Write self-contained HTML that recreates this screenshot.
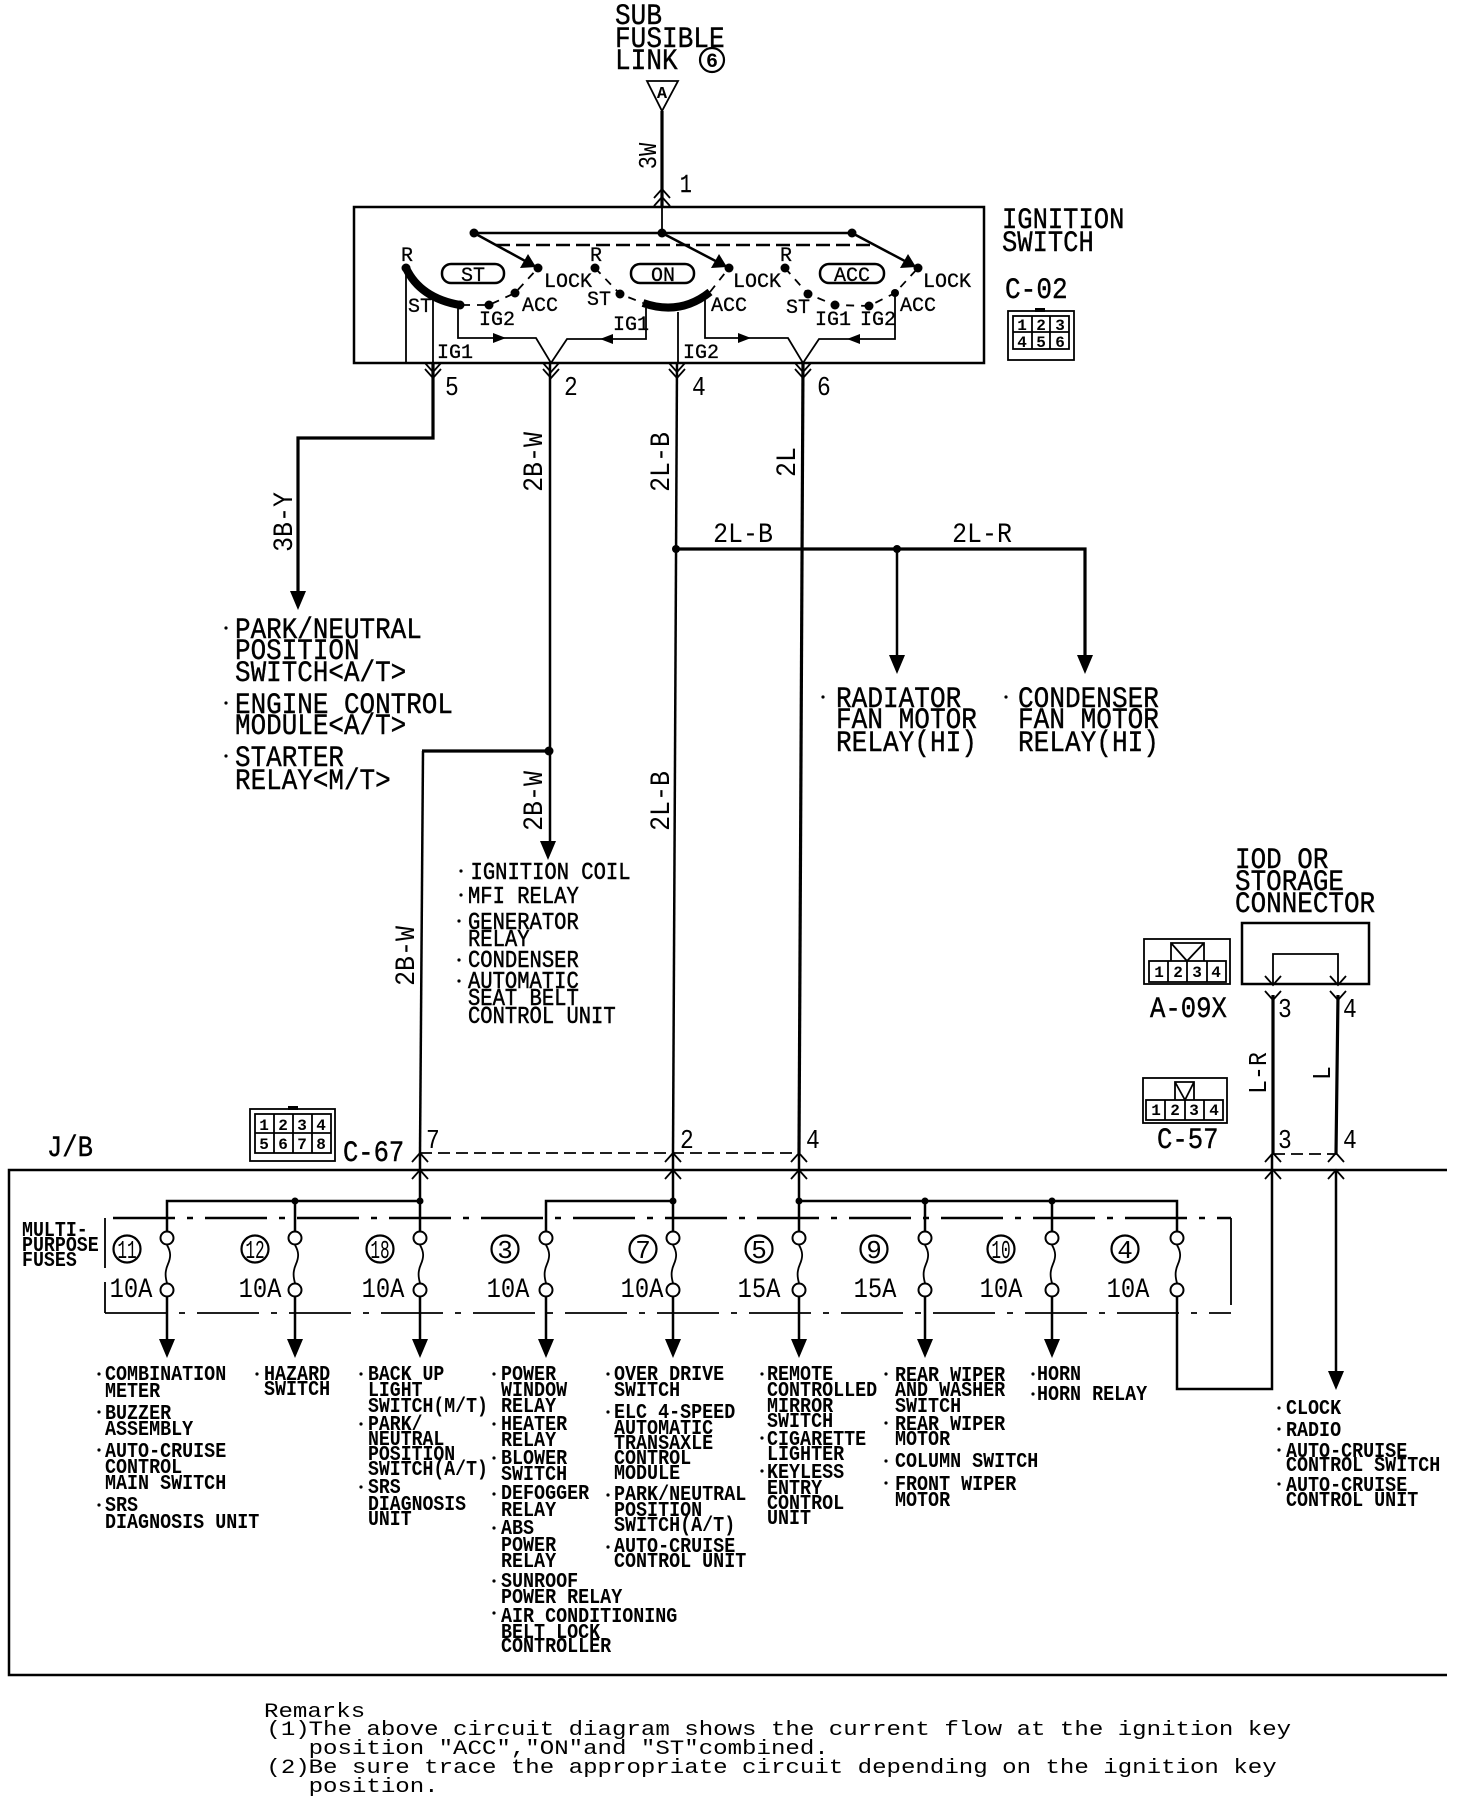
<!DOCTYPE html>
<html><head><meta charset="utf-8"><style>
html,body{margin:0;padding:0;background:#fff}
svg{display:block}
text{font-family:"Liberation Mono",monospace;fill:#000}
.b text,text.b{font-size:30px;stroke:#000;stroke-width:.4}
.m text{font-size:24px;stroke:#000;stroke-width:.5}
.s text{font-size:21px;font-weight:bold}
.k text,text.k{font-size:20px;stroke:#000;stroke-width:.3}
.d text{font-size:16px;font-weight:bold;text-anchor:middle}
.r text{font-size:20px}
.l{fill:none;stroke:#000;stroke-width:2.5}
.t{fill:none;stroke:#000;stroke-width:1.8}
.h{fill:none;stroke:#000;stroke-width:3.2}
</style></head><body>
<svg width="1472" height="1800" viewBox="0 0 1472 1800" xmlns="http://www.w3.org/2000/svg">
<defs>
<g id="f"><path class="t" d="M0,1245c4,7 4,12 1,19c-3,7-3,12-1,19"/><ellipse cy="1238" rx="6.5" ry="6.5" fill="#fff" stroke="#000" stroke-width="2"/><ellipse cy="1290" rx="6.5" ry="6.5" fill="#fff" stroke="#000" stroke-width="2"/></g>
<path id="cu" class="t" d="M-8,9L0,0L8,9"/>
<path id="cd" class="t" d="M-8,-9L0,0L8,-9"/>
<polygon id="ad" points="-8,-19 8,-19 0,0"/>
<g id="sw"><polygon points="536,267 520,268 528,254"/></g>
</defs>

<!-- top -->
<g class="b" transform="translate(615,0) scale(.87,1)"><text y="24">SUB</text><text y="47">FUSIBLE</text><text y="69">LINK</text></g>
<circle cx="712" cy="60" r="12" stroke="#000" stroke-width="2.2" fill="none"/><text x="712" y="67" text-anchor="middle" font-size="20" font-weight="bold">6</text>
<polygon points="647,81 678,81 662,111" class="t"/><text x="662" y="98" text-anchor="middle" font-size="17" font-weight="bold">A</text>
<path class="h" d="M662,111V207"/><path class="t" d="M662,207V233"/>
<use href="#cu" x="662" y="189"/><use href="#cu" x="662" y="197"/>
<text transform="translate(656,156) rotate(-90) scale(.85,1)" text-anchor="middle" font-size="26">3W</text>
<text class="b" transform="translate(680,192) scale(.75,1)" style="font-size:26px">1</text>

<!-- ignition switch -->
<rect x="354" y="207" width="630" height="156" class="l"/>
<g class="b" transform="translate(1002,0) scale(.85,1)"><text y="228">IGNITION</text><text y="251">SWITCH</text></g>
<text class="b" transform="translate(1005,298) scale(.87,1)">C-02</text>
<path class="l" d="M474,233H852"/>
<path class="l" d="M474,233L538,268M662,233L729,268M852,233L918,268"/>
<path d="M496,245H871" class="l" stroke-dasharray="14 6"/>
<use href="#sw"/><use href="#sw" x="191"/><use href="#sw" x="380"/>
<circle cx="474" cy="233" r="4.5"/><circle cx="662" cy="233" r="4.5"/><circle cx="852" cy="233" r="4.5"/>
<g>
<circle cx="538" cy="268" r="4.5"/><circle cx="729" cy="268" r="4.5"/><circle cx="918" cy="268" r="4.5"/>
<circle cx="406" cy="268" r="4.5"/><circle cx="595" cy="268" r="4.5"/><circle cx="785" cy="268" r="4.5"/>
<circle cx="489" cy="305" r="4.5"/><circle cx="515" cy="293" r="4.5"/><circle cx="620" cy="294" r="4.5"/>
<circle cx="808" cy="294" r="4.5"/><circle cx="835" cy="305" r="4.5"/><circle cx="869" cy="306" r="4.5"/><circle cx="895" cy="293" r="4"/>
<circle cx="460" cy="305" r="4.5"/>
</g>
<path d="M406,268Q420,298 460,305" fill="none" stroke="#000" stroke-width="8"/>
<path d="M643,303Q680,316 710,292" fill="none" stroke="#000" stroke-width="8"/>
<path class="t" stroke-dasharray="8 7" d="M462,305L489,305L515,293L538,268M595,268L620,294L643,303M710,292L729,268M785,268L808,294L835,305L869,306L895,293L918,268"/>
<rect x="442" y="264" width="62" height="19" rx="9" class="l"/><rect x="631" y="264" width="63" height="19" rx="9" class="l"/><rect x="820" y="264" width="64" height="19" rx="9" class="l"/>
<g class="k">
<text x="461" y="281">ST</text><text x="651" y="281">ON</text><text x="834" y="281">ACC</text>
<text x="401" y="261">R</text><text x="590" y="261">R</text><text x="780" y="261">R</text>
<text x="544" y="287">LOCK</text><text x="733" y="287">LOCK</text><text x="923" y="287">LOCK</text>
<text x="522" y="311">ACC</text><text x="711" y="311">ACC</text><text x="900" y="311">ACC</text>
<text x="408" y="312">ST</text><text x="587" y="305">ST</text><text x="786" y="313">ST</text>
<text x="479" y="325">IG2</text><text x="613" y="330">IG1</text><text x="815" y="325">IG1</text><text x="860" y="325">IG2</text>
<text x="437" y="358">IG1</text><text x="683" y="358">IG2</text>
</g>
<path class="t" d="M406,272V363M433,300V363M678,312V363"/>
<path class="t" d="M458,305V338H536L551,363L567,339H646V308"/>
<path class="t" d="M705,300V338H788L803,363L819,339H895V293"/>
<polygon points="493,333 506,338 493,343"/><polygon points="613,334 600,339 613,344"/><polygon points="738,333 751,338 738,343"/><polygon points="860,334 847,339 860,344"/>
<!-- C-02 -->
<g class="t"><rect x="1008" y="311" width="66" height="49"/><rect x="1013" y="316" width="56" height="33"/><path d="M1032,316V349M1050,316V349M1013,332H1069"/></g>
<rect x="1035" y="308" width="10" height="4"/>
<g class="d"><text x="1022" y="330">1</text><text x="1041" y="330">2</text><text x="1060" y="330">3</text><text x="1022" y="347">4</text><text x="1041" y="347">5</text><text x="1060" y="347">6</text></g>

<!-- chevrons under switch -->
<g><use href="#cd" x="433" y="372"/><use href="#cd" x="433" y="378"/><use href="#cd" x="551" y="372"/><use href="#cd" x="551" y="378"/><use href="#cd" x="677" y="372"/><use href="#cd" x="677" y="378"/><use href="#cd" x="803" y="372"/><use href="#cd" x="803" y="378"/></g>
<g>
<text font-size="27" transform="translate(445,395) scale(.85,1)">5</text>
<text font-size="27" transform="translate(564,395) scale(.85,1)">2</text>
<text font-size="27" transform="translate(692,395) scale(.85,1)">4</text>
<text font-size="27" transform="translate(817,395) scale(.85,1)">6</text>
</g>

<!-- main wires -->
<path class="h" d="M433,363V438H298V600"/><use href="#ad" x="298" y="610"/>
<path class="l" d="M550,363V845"/><use href="#ad" x="548" y="860"/>
<circle cx="549" cy="751" r="4.5"/>
<path class="h" d="M549,751H422"/><path class="l" d="M423,751L420,1153"/>
<path class="l" d="M677,363L673,1153"/><path class="h" d="M803,363L799,1153"/>
<path class="h" d="M676,549H1085V660"/><path class="l" d="M897,549V660"/>
<use href="#ad" x="897" y="674"/><use href="#ad" x="1085" y="674"/>
<circle cx="676" cy="549" r="4"/><circle cx="897" cy="549" r="4"/>
<g font-size="28">
<text transform="translate(292,522) rotate(-90) scale(.89,1)" text-anchor="middle">3B-Y</text>
<text transform="translate(542,462) rotate(-90) scale(.89,1)" text-anchor="middle">2B-W</text>
<text transform="translate(669,462) rotate(-90) scale(.89,1)" text-anchor="middle">2L-B</text>
<text transform="translate(795,462) rotate(-90) scale(.89,1)" text-anchor="middle">2L</text>
<text transform="translate(542,801) rotate(-90) scale(.89,1)" text-anchor="middle">2B-W</text>
<text transform="translate(669,801) rotate(-90) scale(.89,1)" text-anchor="middle">2L-B</text>
<text transform="translate(414,956) rotate(-90) scale(.89,1)" text-anchor="middle">2B-W</text>
<text transform="translate(743,542) scale(.89,1)" text-anchor="middle">2L-B</text>
<text transform="translate(982,542) scale(.89,1)" text-anchor="middle">2L-R</text>
</g>

<!-- upper labels -->
<g class="b" transform="translate(235,0) scale(.865,1)"><text y="638">PARK/NEUTRAL</text><text y="659">POSITION</text><text y="681">SWITCH&lt;A/T&gt;</text><text y="713">ENGINE CONTROL</text><text y="734">MODULE&lt;A/T&gt;</text><text y="766">STARTER</text><text y="789">RELAY&lt;M/T&gt;</text></g>
<g class="b" transform="translate(836,0) scale(.87,1)"><text y="707">RADIATOR</text><text y="728">FAN MOTOR</text><text y="751">RELAY(HI)</text></g>
<g class="b" transform="translate(1018,0) scale(.87,1)"><text y="707">CONDENSER</text><text y="728">FAN MOTOR</text><text y="751">RELAY(HI)</text></g>
<g class="m" transform="translate(468,0) scale(.855,1)"><text x="3" y="879">IGNITION COIL</text><text y="903">MFI RELAY</text><text y="929">GENERATOR</text><text y="946">RELAY</text><text y="967">CONDENSER</text><text y="988">AUTOMATIC</text><text y="1005">SEAT BELT</text><text y="1023">CONTROL UNIT</text></g>
<g><circle cx="226" cy="628" r="1.6"/><circle cx="226" cy="703" r="1.6"/><circle cx="226" cy="756" r="1.6"/><circle cx="823" cy="697" r="1.6"/><circle cx="1006" cy="697" r="1.6"/><circle cx="461" cy="871" r="1.6"/><circle cx="461" cy="895" r="1.6"/><circle cx="459" cy="921" r="1.6"/><circle cx="459" cy="960" r="1.6"/><circle cx="459" cy="981" r="1.6"/></g>

<!-- IOD -->
<g class="b" transform="translate(1235,0) scale(.865,1)"><text y="868">IOD OR</text><text y="890">STORAGE</text><text y="912">CONNECTOR</text></g>
<rect x="1242" y="923" width="127" height="61" class="l"/>
<path class="t" d="M1273,984V954H1338V984"/>
<path class="h" d="M1273,995V1154M1338,995L1336,1154"/>
<use href="#cd" x="1273" y="985"/><use href="#cd" x="1338" y="985"/><use href="#cd" x="1273" y="1000"/><use href="#cd" x="1338" y="1000"/>
<g>
<text font-size="27" transform="translate(1278,1017) scale(.85,1)">3</text><text font-size="27" transform="translate(1343,1017) scale(.85,1)">4</text>
<text font-size="27" transform="translate(1278,1148) scale(.85,1)">3</text><text font-size="27" transform="translate(1343,1148) scale(.85,1)">4</text>
<text font-size="27" transform="translate(426,1148) scale(.85,1)">7</text><text font-size="27" transform="translate(680,1148) scale(.85,1)">2</text><text font-size="27" transform="translate(806,1148) scale(.85,1)">4</text>
</g>
<text transform="translate(1266,1073) rotate(-90) scale(.89,1)" text-anchor="middle" font-size="26">L-R</text>
<text transform="translate(1330,1073) rotate(-90) scale(.89,1)" text-anchor="middle" font-size="26">L</text>
<!-- A-09X -->
<g class="t"><rect x="1144" y="939" width="86" height="45"/><rect x="1149" y="961" width="77" height="21"/><path d="M1168,961V982M1187,961V982M1207,961V982"/><path d="M1171,961V943H1204V961M1171,943L1187,961L1204,943"/></g>
<g class="d"><text x="1159" y="977">1</text><text x="1178" y="977">2</text><text x="1197" y="977">3</text><text x="1216" y="977">4</text></g>
<text class="b" transform="translate(1150,1017) scale(.855,1)">A-09X</text>
<!-- C-57 -->
<g class="t"><rect x="1143" y="1078" width="84" height="45"/><rect x="1146" y="1100" width="77" height="20"/><path d="M1165,1100V1120M1185,1100V1120M1204,1100V1120"/><path d="M1175,1100V1082H1194V1100M1175,1082L1185,1100L1194,1082"/></g>
<g class="d"><text x="1156" y="1115">1</text><text x="1175" y="1115">2</text><text x="1194" y="1115">3</text><text x="1214" y="1115">4</text></g>
<text class="b" transform="translate(1157,1148) scale(.855,1)">C-57</text>
<!-- C-67 -->
<g class="t"><rect x="250" y="1109" width="85" height="52"/><rect x="255" y="1114" width="76" height="39"/><path d="M274,1114V1153M293,1114V1153M312,1114V1153M255,1133H331"/></g>
<rect x="288" y="1106" width="10" height="4"/>
<g class="d"><text x="264" y="1130">1</text><text x="283" y="1130">2</text><text x="302" y="1130">3</text><text x="321" y="1130">4</text><text x="264" y="1149">5</text><text x="283" y="1149">6</text><text x="302" y="1149">7</text><text x="321" y="1149">8</text></g>
<text class="b" transform="translate(343,1161) scale(.85,1)">C-67</text>
<text class="b" transform="translate(47,1156) scale(.85,1)">J/B</text>

<!-- J/B box -->
<path class="l" d="M1447,1170H9V1675H1447"/>
<path class="t" d="M420,1153H799M1273,1154H1337" stroke-dasharray="12 6"/>
<g><use href="#cu" x="420" y="1153"/><use href="#cu" x="420" y="1170"/><use href="#cu" x="673" y="1153"/><use href="#cu" x="673" y="1170"/><use href="#cu" x="799" y="1153"/><use href="#cu" x="799" y="1170"/><use href="#cu" x="1273" y="1153"/><use href="#cu" x="1273" y="1170"/><use href="#cu" x="1336" y="1153"/><use href="#cu" x="1336" y="1170"/></g>
<path class="l" d="M420,1153V1232M673,1153V1232M799,1153V1232"/>
<path class="l" d="M167,1232V1201H420M295,1201V1232M546,1232V1201H673M799,1201H1177V1232M925,1201V1232M1052,1201V1232"/>
<circle cx="295" cy="1201" r="3.5"/><circle cx="420" cy="1201" r="3.5"/><circle cx="673" cy="1201" r="3.5"/><circle cx="799" cy="1201" r="3.5"/><circle cx="925" cy="1201" r="3.5"/><circle cx="1052" cy="1201" r="3.5"/>
<path class="l" d="M113,1218H1231" stroke-dasharray="62 12 6 12"/>
<path class="t" d="M105,1313H1231" stroke-dasharray="62 12 6 12"/>
<path class="t" d="M105,1218V1268M105,1282V1313M1231,1218V1305"/>
<g><use href="#f" x="167"/><use href="#f" x="295"/><use href="#f" x="420"/><use href="#f" x="546"/><use href="#f" x="673"/><use href="#f" x="799"/><use href="#f" x="925"/><use href="#f" x="1052"/><use href="#f" x="1177"/></g>
<path class="l" d="M167,1297V1345M295,1297V1345M420,1297V1345M546,1297V1345M673,1297V1345M799,1297V1345M925,1297V1345M1052,1297V1345M1336,1170V1375"/>
<path class="l" d="M1177,1297V1389H1272V1154"/>
<use href="#ad" x="167" y="1358"/><use href="#ad" x="295" y="1358"/><use href="#ad" x="420" y="1358"/><use href="#ad" x="546" y="1358"/><use href="#ad" x="673" y="1358"/><use href="#ad" x="799" y="1358"/><use href="#ad" x="925" y="1358"/><use href="#ad" x="1052" y="1358"/><use href="#ad" x="1336" y="1390"/>
<!-- circles -->
<g fill="none" stroke="#000" stroke-width="2.2"><circle cx="127" cy="1249" r="13.5"/><circle cx="255" cy="1249" r="13.5"/><circle cx="380" cy="1249" r="13.5"/><circle cx="505" cy="1249" r="13.5"/><circle cx="643" cy="1249" r="13.5"/><circle cx="759" cy="1249" r="13.5"/><circle cx="874" cy="1249" r="13.5"/><circle cx="1001" cy="1249" r="13.5"/><circle cx="1125" cy="1249" r="13.5"/></g>
<g font-size="26" text-anchor="middle">
<text transform="translate(127,1258) scale(.62,1)">11</text><text transform="translate(255,1258) scale(.62,1)">12</text><text transform="translate(380,1258) scale(.62,1)">18</text><text x="505" y="1258">3</text><text x="643" y="1258">7</text><text x="759" y="1258">5</text><text x="874" y="1258">9</text><text transform="translate(1001,1258) scale(.62,1)">10</text><text x="1125" y="1258">4</text>
</g>
<g font-size="28" text-anchor="middle">
<text transform="translate(131,1297) scale(.85,1)">10A</text><text transform="translate(260,1297) scale(.85,1)">10A</text><text transform="translate(383,1297) scale(.85,1)">10A</text><text transform="translate(508,1297) scale(.85,1)">10A</text><text transform="translate(642,1297) scale(.85,1)">10A</text><text transform="translate(759,1297) scale(.85,1)">15A</text><text transform="translate(875,1297) scale(.85,1)">15A</text><text transform="translate(1001,1297) scale(.85,1)">10A</text><text transform="translate(1128,1297) scale(.85,1)">10A</text>
</g>
<g class="s" transform="translate(22,0) scale(.87,1)"><text y="1236">MULTI-</text><text y="1251">PURPOSE</text><text y="1266">FUSES</text></g>

<!-- lower labels -->
<g class="s" transform="translate(105,0) scale(.875,1)"><text y="1380">COMBINATION</text><text y="1397">METER</text><text y="1419">BUZZER</text><text y="1435">ASSEMBLY</text><text y="1457">AUTO-CRUISE</text><text y="1473">CONTROL</text><text y="1489">MAIN SWITCH</text><text y="1511">SRS</text><text y="1528">DIAGNOSIS UNIT</text></g>
<g class="s" transform="translate(264,0) scale(.875,1)"><text y="1380">HAZARD</text><text y="1395">SWITCH</text></g>
<g class="s" transform="translate(368,0) scale(.865,1)"><text y="1380">BACK UP</text><text y="1396">LIGHT</text><text y="1412">SWITCH(M/T)</text><text y="1430">PARK/</text><text y="1445">NEUTRAL</text><text y="1460">POSITION</text><text y="1475">SWITCH(A/T)</text><text y="1493">SRS</text><text y="1510">DIAGNOSIS</text><text y="1525">UNIT</text></g>
<g class="s" transform="translate(501,0) scale(.875,1)"><text y="1380">POWER</text><text y="1396">WINDOW</text><text y="1412">RELAY</text><text y="1430">HEATER</text><text y="1446">RELAY</text><text y="1464">BLOWER</text><text y="1480">SWITCH</text><text y="1499">DEFOGGER</text><text y="1516">RELAY</text><text y="1534">ABS</text><text y="1551">POWER</text><text y="1567">RELAY</text><text y="1587">SUNROOF</text><text y="1603">POWER RELAY</text><text y="1622">AIR CONDITIONING</text><text y="1638">BELT LOCK</text><text y="1652">CONTROLLER</text></g>
<g class="s" transform="translate(614,0) scale(.875,1)"><text y="1380">OVER DRIVE</text><text y="1396">SWITCH</text><text y="1418">ELC 4-SPEED</text><text y="1434">AUTOMATIC</text><text y="1449">TRANSAXLE</text><text y="1464">CONTROL</text><text y="1479">MODULE</text><text y="1500">PARK/NEUTRAL</text><text y="1516">POSITION</text><text y="1531">SWITCH(A/T)</text><text y="1552">AUTO-CRUISE</text><text y="1567">CONTROL UNIT</text></g>
<g class="s" transform="translate(767,0) scale(.875,1)"><text y="1380">REMOTE</text><text y="1396">CONTROLLED</text><text y="1412">MIRROR</text><text y="1427">SWITCH</text><text y="1445">CIGARETTE</text><text y="1460">LIGHTER</text><text y="1478">KEYLESS</text><text y="1494">ENTRY</text><text y="1509">CONTROL</text><text y="1524">UNIT</text></g>
<g class="s" transform="translate(895,0) scale(.875,1)"><text y="1381">REAR WIPER</text><text y="1396">AND WASHER</text><text y="1412">SWITCH</text><text y="1430">REAR WIPER</text><text y="1445">MOTOR</text><text y="1467">COLUMN SWITCH</text><text y="1490">FRONT WIPER</text><text y="1506">MOTOR</text></g>
<g class="s" transform="translate(1037,0) scale(.875,1)"><text y="1380">HORN</text><text y="1400">HORN RELAY</text></g>
<g class="s" transform="translate(1286,0) scale(.875,1)"><text y="1414">CLOCK</text><text y="1436">RADIO</text><text y="1457">AUTO-CRUISE</text><text y="1471">CONTROL SWITCH</text><text y="1491">AUTO-CRUISE</text><text y="1506">CONTROL UNIT</text></g>
<g>
<circle cx="99" cy="1374" r="1.6"/><circle cx="99" cy="1412" r="1.6"/><circle cx="99" cy="1450" r="1.6"/><circle cx="99" cy="1505" r="1.6"/>
<circle cx="257" cy="1374" r="1.6"/>
<circle cx="361" cy="1374" r="1.6"/><circle cx="361" cy="1424" r="1.6"/><circle cx="361" cy="1487" r="1.6"/>
<circle cx="494" cy="1374" r="1.6"/><circle cx="494" cy="1424" r="1.6"/><circle cx="494" cy="1458" r="1.6"/><circle cx="494" cy="1494" r="1.6"/><circle cx="494" cy="1528" r="1.6"/><circle cx="494" cy="1581" r="1.6"/><circle cx="494" cy="1613" r="1.6"/>
<circle cx="608" cy="1374" r="1.6"/><circle cx="608" cy="1412" r="1.6"/><circle cx="608" cy="1495" r="1.6"/><circle cx="608" cy="1547" r="1.6"/>
<circle cx="762" cy="1374" r="1.6"/><circle cx="762" cy="1438" r="1.6"/><circle cx="762" cy="1471" r="1.6"/>
<circle cx="886" cy="1374" r="1.6"/><circle cx="886" cy="1423" r="1.6"/><circle cx="886" cy="1461" r="1.6"/><circle cx="886" cy="1483" r="1.6"/>
<circle cx="1033" cy="1374" r="1.6"/><circle cx="1033" cy="1394" r="1.6"/>
<circle cx="1279" cy="1408" r="1.6"/><circle cx="1279" cy="1429" r="1.6"/><circle cx="1279" cy="1450" r="1.6"/><circle cx="1279" cy="1484" r="1.6"/>
</g>

<!-- remarks -->
<g class="r" transform="translate(264,0) scale(1.205,1)"><text y="1717">Remarks</text><text x="2" y="1735">(1)</text><text x="37" y="1735">The above circuit diagram shows the current flow at the ignition key</text><text x="37" y="1754">position "ACC","ON"and "ST"combined.</text><text x="2" y="1773">(2)</text><text x="37" y="1773">Be sure trace the appropriate circuit depending on the ignition key</text><text x="37" y="1792">position.</text></g>
</svg>
</body></html>
